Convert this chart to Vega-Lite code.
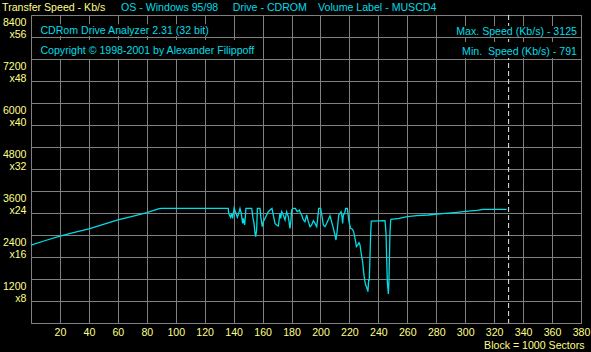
{
  "$schema": "https://vega.github.io/schema/vega-lite/v6.json",
  "width": 550,
  "height": 308,
  "autosize": {"type": "none"},
  "padding": {"left": 31, "top": 15, "right": 10, "bottom": 29},
  "background": "#000000",
  "config": {
    "view": {"stroke": "#808080", "strokeWidth": 1, "fill": "#000000"},
    "font": "Liberation Sans",
    "text": {"font": "Liberation Sans", "fontSize": 10.6},
    "axis": {
      "gridColor": "#808080", "gridOpacity": 1, "gridWidth": 1,
      "ticks": false, "domain": false,
      "labelColor": "#ffff88", "labelFont": "Liberation Sans", "labelFontSize": 10.6,
      "labelFlush": false, "labelOverlap": false,
      "titleColor": "#ffff88", "titleFont": "Liberation Sans", "titleFontSize": 10.6, "titleFontWeight": "normal"
    }
  },
  "datasets": {
    "speed": [
      {"block": 0, "speed": 2127},
      {"block": 10, "speed": 2250},
      {"block": 20, "speed": 2372},
      {"block": 30, "speed": 2470},
      {"block": 40, "speed": 2570},
      {"block": 50, "speed": 2690},
      {"block": 60, "speed": 2810},
      {"block": 70, "speed": 2910},
      {"block": 80, "speed": 3009},
      {"block": 88, "speed": 3110},
      {"block": 90, "speed": 3125},
      {"block": 136.3, "speed": 3125},
      {"block": 136.6, "speed": 2991},
      {"block": 137.9, "speed": 2882},
      {"block": 138.6, "speed": 2991},
      {"block": 139.3, "speed": 2854},
      {"block": 140.3, "speed": 3125},
      {"block": 141.6, "speed": 2991},
      {"block": 142.6, "speed": 2882},
      {"block": 143.5, "speed": 2991},
      {"block": 144.4, "speed": 3125},
      {"block": 145.3, "speed": 2991},
      {"block": 146.2, "speed": 2718},
      {"block": 146.7, "speed": 2854},
      {"block": 147.6, "speed": 2673},
      {"block": 148.1, "speed": 2900},
      {"block": 148.5, "speed": 3125},
      {"block": 152.5, "speed": 3125},
      {"block": 153.2, "speed": 2900},
      {"block": 154.1, "speed": 2718},
      {"block": 154.8, "speed": 2445},
      {"block": 155.2, "speed": 2354},
      {"block": 155.9, "speed": 2536},
      {"block": 156.4, "speed": 3125},
      {"block": 158.2, "speed": 3125},
      {"block": 158.9, "speed": 2854},
      {"block": 159.8, "speed": 2627},
      {"block": 160.5, "speed": 2763},
      {"block": 161.7, "speed": 2854},
      {"block": 162.8, "speed": 2945},
      {"block": 164, "speed": 3036},
      {"block": 165.1, "speed": 3080},
      {"block": 166.5, "speed": 3125},
      {"block": 167.4, "speed": 2945},
      {"block": 168.6, "speed": 2718},
      {"block": 169.7, "speed": 2673},
      {"block": 170.9, "speed": 2645},
      {"block": 172, "speed": 2991},
      {"block": 172.5, "speed": 2854},
      {"block": 173.2, "speed": 3036},
      {"block": 174.3, "speed": 2945},
      {"block": 175.5, "speed": 2809},
      {"block": 176.6, "speed": 3036},
      {"block": 177.8, "speed": 2900},
      {"block": 178.9, "speed": 2582},
      {"block": 179.6, "speed": 2809},
      {"block": 180.1, "speed": 3080},
      {"block": 181.2, "speed": 3125},
      {"block": 182.6, "speed": 3125},
      {"block": 184, "speed": 3036},
      {"block": 185.4, "speed": 3080},
      {"block": 186.3, "speed": 2991},
      {"block": 187, "speed": 2945},
      {"block": 188.2, "speed": 2809},
      {"block": 189.3, "speed": 2763},
      {"block": 190.5, "speed": 2945},
      {"block": 191.6, "speed": 2763},
      {"block": 192.8, "speed": 2627},
      {"block": 193.9, "speed": 2673},
      {"block": 195.1, "speed": 2791},
      {"block": 196.2, "speed": 2718},
      {"block": 197.4, "speed": 2627},
      {"block": 198.1, "speed": 2854},
      {"block": 198.8, "speed": 3125},
      {"block": 200.1, "speed": 3125},
      {"block": 201.1, "speed": 2900},
      {"block": 202, "speed": 2673},
      {"block": 203.1, "speed": 2627},
      {"block": 204.3, "speed": 2718},
      {"block": 206.6, "speed": 2918},
      {"block": 207.7, "speed": 2763},
      {"block": 208.9, "speed": 2582},
      {"block": 210, "speed": 2400},
      {"block": 210.7, "speed": 2263},
      {"block": 211.6, "speed": 2536},
      {"block": 212.6, "speed": 2945},
      {"block": 213.5, "speed": 2991},
      {"block": 214.2, "speed": 3036},
      {"block": 214.9, "speed": 2900},
      {"block": 215.3, "speed": 2718},
      {"block": 215.8, "speed": 2945},
      {"block": 216.7, "speed": 2991},
      {"block": 217.4, "speed": 3125},
      {"block": 218.6, "speed": 3125},
      {"block": 219, "speed": 2991},
      {"block": 219.5, "speed": 2809},
      {"block": 220.2, "speed": 2673},
      {"block": 220.9, "speed": 2582},
      {"block": 222.2, "speed": 2554},
      {"block": 222.9, "speed": 2491},
      {"block": 223.6, "speed": 2354},
      {"block": 224.3, "speed": 2218},
      {"block": 224.8, "speed": 2082},
      {"block": 225.7, "speed": 2127},
      {"block": 226.6, "speed": 2191},
      {"block": 227.3, "speed": 2127},
      {"block": 227.8, "speed": 1991},
      {"block": 228.5, "speed": 1809},
      {"block": 229.1, "speed": 1673},
      {"block": 229.8, "speed": 1400},
      {"block": 230.5, "speed": 1173},
      {"block": 231.2, "speed": 1036},
      {"block": 231.9, "speed": 973},
      {"block": 232.8, "speed": 854},
      {"block": 233.3, "speed": 1173},
      {"block": 233.7, "speed": 1173},
      {"block": 234.2, "speed": 1809},
      {"block": 234.7, "speed": 2445},
      {"block": 235.1, "speed": 2780},
      {"block": 244.6, "speed": 2790},
      {"block": 245.3, "speed": 2445},
      {"block": 245.7, "speed": 1809},
      {"block": 246.2, "speed": 1127},
      {"block": 246.9, "speed": 791},
      {"block": 247.3, "speed": 1127},
      {"block": 248, "speed": 2445},
      {"block": 248.5, "speed": 2800},
      {"block": 248.7, "speed": 2827},
      {"block": 254.3, "speed": 2855},
      {"block": 260, "speed": 2900},
      {"block": 266.5, "speed": 2927},
      {"block": 274.5, "speed": 2945},
      {"block": 280.3, "speed": 2973},
      {"block": 286, "speed": 2991},
      {"block": 294.1, "speed": 3018},
      {"block": 300.3, "speed": 3045},
      {"block": 307.9, "speed": 3073},
      {"block": 312.5, "speed": 3100},
      {"block": 328.6, "speed": 3100}
    ]
  },
  "layer": [
    {
      "data": {"name": "speed"},
      "mark": {"type": "line", "color": "#00dde6", "strokeWidth": 1.3},
      "encoding": {
        "x": {
          "field": "block", "type": "quantitative",
          "scale": {"domain": [0, 380], "nice": false, "zero": false},
          "axis": {
            "values": [20, 40, 60, 80, 100, 120, 140, 160, 180, 200, 220, 240, 260, 280, 300, 320, 340, 360, 380],
            "tickCount": 50,
            "grid": true, "labelPadding": 4, "labelBaseline": "top", "labelOverlap": false, "labelFlush": false,
            "title": "Block = 1000 Sectors", "titleX": 553, "titleY": 22,
            "titleAlign": "right", "titleBaseline": "middle", "titleAnchor": null
          }
        },
        "y": {
          "field": "speed", "type": "quantitative",
          "scale": {"domain": [0, 8400], "nice": false},
          "axis": {
            "values": [0, 600, 1200, 1800, 2400, 3000, 3600, 4200, 4800, 5400, 6000, 6600, 7200, 7800, 8400],
            "tickCount": 50,
            "grid": true, "title": null, "labelOverlap": false, "labelFlush": false,
            "labelAlign": "right", "labelBaseline": "top", "labelPadding": 5, "labelLineHeight": 12, "labelOffset": 2,
            "labelExpr": "datum.value % 1200 == 0 && datum.value > 0 ? [format(datum.value, 'd'), 'x' + format(datum.value / 150, 'd')] : ''"
          }
        }
      }
    },
    {
      "data": {"values": [{}]},
      "mark": {"type": "rule", "color": "#e8e8e8", "strokeDash": [5, 3], "strokeWidth": 1},
      "encoding": {"x": {"datum": 330}}
    },
    {
      "data": {"values": [{}]},
      "mark": {"type": "rect", "color": "#000000"},
      "encoding": {"x": {"datum": 6.2}, "x2": {"datum": 122.3}, "y": {"datum": 8150}, "y2": {"datum": 7830}}
    },
    {
      "data": {"values": [{}]},
      "mark": {"type": "rect", "color": "#000000"},
      "encoding": {"x": {"datum": 6.2}, "x2": {"datum": 154.8}, "y": {"datum": 7720}, "y2": {"datum": 7200}}
    },
    {
      "data": {"values": [{}]},
      "mark": {"type": "rect", "color": "#000000"},
      "encoding": {"x": {"datum": 291.6}, "x2": {"datum": 378.6}, "y": {"datum": 8100}, "y2": {"datum": 7800}}
    },
    {
      "data": {"values": [{}]},
      "mark": {"type": "rect", "color": "#000000"},
      "encoding": {"x": {"datum": 291.6}, "x2": {"datum": 378.6}, "y": {"datum": 7663}, "y2": {"datum": 7227}}
    },
    {
      "data": {"values": [{}]},
      "mark": {"type": "text", "color": "#00dde6", "align": "left", "baseline": "middle", "text": "CDRom Drive Analyzer 2.31 (32 bit)"},
      "encoding": {"x": {"datum": 6.5}, "y": {"datum": 7963}}
    },
    {
      "data": {"values": [{}]},
      "mark": {"type": "text", "color": "#00dde6", "align": "left", "baseline": "middle", "text": "Copyright © 1998-2001 by Alexander Filippoff"},
      "encoding": {"x": {"datum": 6.5}, "y": {"datum": 7418}}
    },
    {
      "data": {"values": [{}]},
      "mark": {"type": "text", "color": "#00dde6", "align": "right", "baseline": "middle", "text": "Max. Speed (Kb/s) - 3125"},
      "encoding": {"x": {"datum": 377.2}, "y": {"datum": 7936}}
    },
    {
      "data": {"values": [{}]},
      "mark": {"type": "text", "color": "#00dde6", "align": "right", "baseline": "middle", "text": "Min.\u00a0 Speed (Kb/s) - 791"},
      "encoding": {"x": {"datum": 377.2}, "y": {"datum": 7390}}
    },
    {
      "data": {"values": [{}]},
      "mark": {"type": "text", "color": "#ffff88", "align": "left", "baseline": "middle", "text": "Transfer Speed - Kb/s"},
      "encoding": {"x": {"datum": -20}, "y": {"datum": 8604}}
    },
    {
      "data": {"values": [{}]},
      "mark": {"type": "text", "color": "#00dde6", "align": "left", "baseline": "middle", "text": "OS - Windows 95/98"},
      "encoding": {"x": {"datum": 62.2}, "y": {"datum": 8604}}
    },
    {
      "data": {"values": [{}]},
      "mark": {"type": "text", "color": "#00dde6", "align": "left", "baseline": "middle", "text": "Drive - CDROM"},
      "encoding": {"x": {"datum": 139.4}, "y": {"datum": 8604}}
    },
    {
      "data": {"values": [{}]},
      "mark": {"type": "text", "color": "#00dde6", "align": "left", "baseline": "middle", "text": "Volume Label - MUSCD4"},
      "encoding": {"x": {"datum": 198.3}, "y": {"datum": 8604}}
    }
  ]
}
